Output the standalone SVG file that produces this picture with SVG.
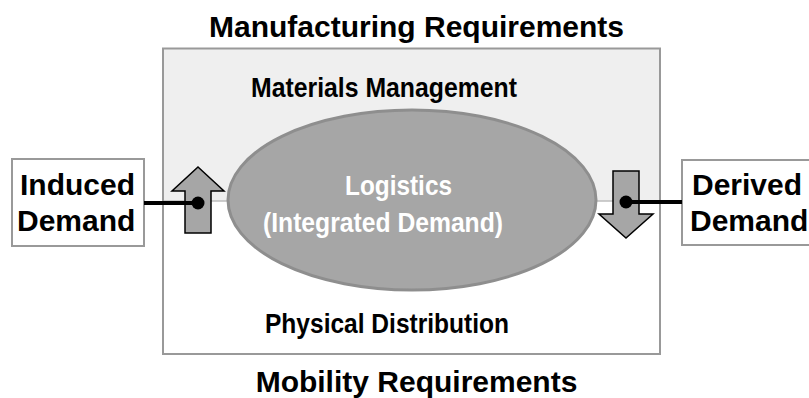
<svg xmlns="http://www.w3.org/2000/svg" width="809" height="398" viewBox="0 0 809 398">
<style>
.t{font-family:"Liberation Sans",Arial,sans-serif;font-weight:bold;fill:#000}
.big{font-size:30px}
.in{font-size:28px}
.w{fill:#fff}
.arrow{fill:#a6a6a6;stroke:#000;stroke-width:1.5}
.box{fill:#fff;stroke:#999;stroke-width:2}
.conn{stroke:#000;stroke-width:4;fill:none}
</style>
<rect width="809" height="398" fill="#fff"/>
<g id="frame">
<rect x="163" y="48.5" width="497" height="152.5" fill="#efefef"/>
<line x1="163" y1="201" x2="660" y2="201" stroke="#bdbdbd" stroke-width="1.5"/>
<rect x="163" y="48.5" width="497" height="305.5" fill="none" stroke="#999" stroke-width="2"/>
</g>
<text class="t big" x="416.5" y="37" text-anchor="middle">Manufacturing Requirements</text>
<text class="t big" x="416.5" y="392" text-anchor="middle">Mobility Requirements</text>
<text class="t in" x="251" y="96.5" textLength="266" lengthAdjust="spacingAndGlyphs">Materials Management</text>
<text class="t in" x="265" y="332.5" textLength="244" lengthAdjust="spacingAndGlyphs">Physical Distribution</text>
<g id="logistics">
<ellipse cx="412" cy="200" rx="184" ry="90" fill="#a6a6a6" stroke="#8e8e8e" stroke-width="3"/>
<text class="t in w" x="345" y="194.5" textLength="107" lengthAdjust="spacingAndGlyphs">Logistics</text>
<text class="t in w" x="263" y="231.5" textLength="240" lengthAdjust="spacingAndGlyphs">(Integrated Demand)</text>
</g>
<g id="induced">
<rect class="box" x="12" y="159" width="132" height="87"/>
<text class="t big" x="20" y="195">Induced</text>
<text class="t big" x="17" y="231">Demand</text>
</g>
<g id="derived">
<rect class="box" x="682" y="160" width="140" height="85"/>
<text class="t big" x="692" y="194.5">Derived</text>
<text class="t big" x="690" y="231">Demand</text>
</g>
<g id="up-arrow">
<polygon class="arrow" points="198,167 224,191 211,191 211,233 185,233 185,191 172,191"/>
</g>
<g id="down-arrow">
<polygon class="arrow" points="613,171 639,171 639,214 653,214 626,238 599,214 613,214"/>
</g>
<g id="connectors">
<line class="conn" x1="144" y1="203" x2="198" y2="203"/>
<circle cx="198" cy="203" r="6.5" fill="#000"/>
<line class="conn" x1="626" y1="202" x2="682" y2="202"/>
<circle cx="626" cy="202" r="6.5" fill="#000"/>
</g>
</svg>
